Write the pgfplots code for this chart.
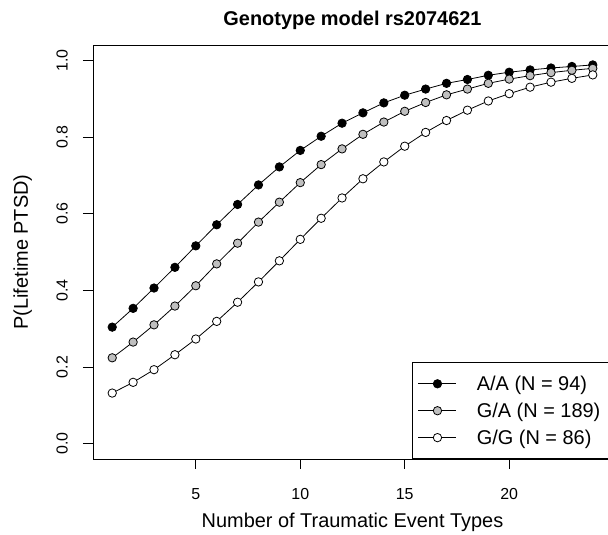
\documentclass[border=0pt]{standalone}
\usepackage{fontspec}
\setmainfont{Liberation Sans}
\usepackage{pgfplots}
\usepackage{pgfplotstable}
\pgfplotsset{compat=1.18}

% P(lifetime PTSD) by number of traumatic event types, per genotype
\pgfplotstableread{
x  AA    GA    GG
1  0.304 0.224 0.132
2  0.353 0.265 0.160
3  0.406 0.310 0.193
4  0.460 0.359 0.232
5  0.516 0.412 0.273
6  0.571 0.469 0.319
7  0.624 0.523 0.369
8  0.675 0.578 0.422
9  0.722 0.630 0.477
10 0.765 0.681 0.533
11 0.802 0.728 0.588
12 0.836 0.769 0.641
13 0.863 0.807 0.691
14 0.889 0.839 0.735
15 0.909 0.867 0.776
16 0.925 0.890 0.812
17 0.940 0.910 0.843
18 0.950 0.925 0.870
19 0.961 0.940 0.894
20 0.969 0.951 0.913
21 0.975 0.960 0.930
22 0.980 0.968 0.943
23 0.984 0.974 0.953
24 0.988 0.979 0.962
}\probs

\begin{document}
\begin{tikzpicture}
\begin{axis}[
  scale only axis,
  width=519bp, height=414bp,
  xmin=0.08, xmax=24.92, ymin=-0.04, ymax=1.04,
  xtick={5,10,15,20},
  ytick={0,0.2,0.4,0.6,0.8,1},
  tick pos=left, tick align=outside,
  major tick length=10bp,
  tick style={black, line width=0.8bp},
  axis line style={black, line width=0.8bp},
  /pgf/number format/assume math mode=true,
  ticklabel style={font=\fontsize{16}{19}\selectfont},
  yticklabel style={rotate=90, anchor=south, inner sep=0pt,
    /pgf/number format/.cd, fixed, fixed zerofill, precision=1},
  xticklabel style={anchor=north, inner sep=0pt},
  yticklabel shift=15bp,
  xticklabel shift=19.5bp,
  xlabel={Number of Traumatic Event Types},
  xlabel style={at={([yshift=-68bp]axis description cs:0.5,0)}, anchor=base,
    font=\fontsize{20}{24}\selectfont},
  ylabel={P(Lifetime PTSD)},
  ylabel style={at={([xshift=-65bp]axis description cs:0,0.5)}, anchor=base,
    font=\fontsize{20}{24}\selectfont},
  title={Genotype model rs2074621},
  title style={at={([yshift=14bp]axis description cs:0.5,1)}, anchor=base, yshift=0pt,
    font=\bfseries\fontsize{20}{24}\selectfont},
  legend style={at={(0.6146,0)}, anchor=south west, draw=black, line width=0.8bp,
    fill=white, font=\fontsize{20}{24}\selectfont,
    inner xsep=5.7bp, inner ysep=11bp, row sep=7bp,
    cells={anchor=west},
    /tikz/every odd column/.append style={column sep=18bp}},
  legend image code/.code={
    \draw[#1, mark repeat=2, mark phase=2]
      plot coordinates {(0bp,0bp) (19bp,0bp) (38bp,0bp)};},
  every axis plot/.append style={black, line width=0.8bp, mark=*, mark size=4.2bp},
]
\addplot[mark options={fill=black, draw=black}] table[x=x, y=AA] {\probs};
\addlegendentry{A/A (N = 94)}
\addplot[mark options={fill=black!25, draw=black}] table[x=x, y=GA] {\probs};
\addlegendentry{G/A (N = 189)\hspace*{6bp}}
\addplot[mark options={fill=white, draw=black}] table[x=x, y=GG] {\probs};
\addlegendentry{G/G (N = 86)}
\coordinate (bl) at (rel axis cs:0,0);
\coordinate (tr) at (rel axis cs:1,1);
\end{axis}
\pgfresetboundingbox
\path[use as bounding box] ([shift={(-93bp,-76bp)}]bl) rectangle ([shift={(-4bp,45bp)}]tr);
\end{tikzpicture}
\end{document}
